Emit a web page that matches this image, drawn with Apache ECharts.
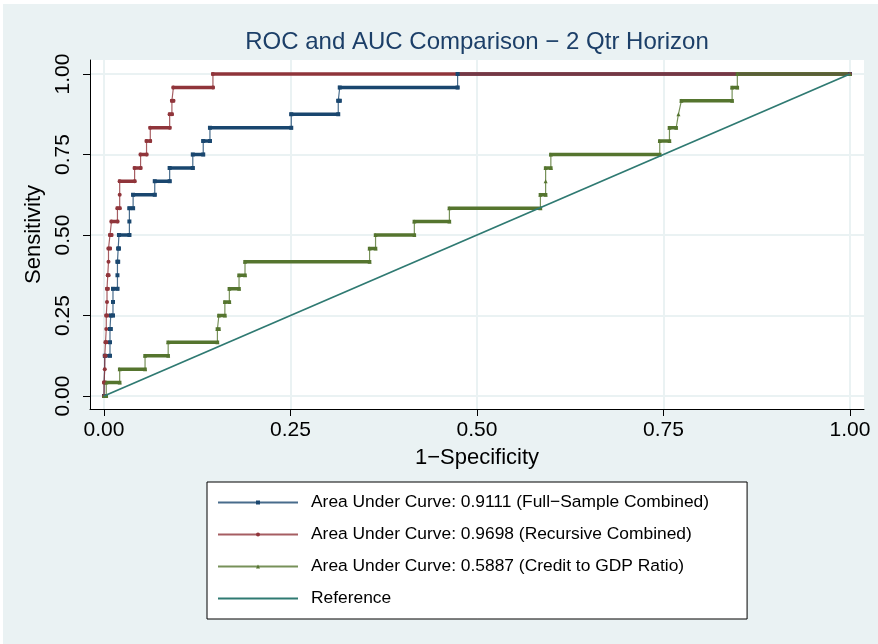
<!DOCTYPE html>
<html>
<head>
<meta charset="utf-8">
<title>ROC and AUC Comparison</title>
<script src="https://cdn.jsdelivr.net/npm/echarts@6/dist/echarts.min.js"></script>
<style>
  html, body { margin: 0; padding: 0; background: #fff; }
  #chart { position: absolute; left: 3px; top: 4px; width: 875px; height: 640px; }
</style>
</head>
<body>
<div id="chart"></div>
<script>
// tick positions, same on both axes
const axisTicks = [0, 0.25, 0.5, 0.75, 1];

// Full-sample combined: each sensitivity level and the 1-specificity span it holds
const fullTpr  = [0, 0.125, 0.167, 0.208, 0.25, 0.292, 0.333, 0.375, 0.417, 0.458, 0.5, 0.542, 0.583, 0.625, 0.667, 0.708, 0.75, 0.792, 0.833, 0.875, 0.917, 0.958, 1];
const fullFrom = [0, 0.001, 0.008, 0.008, 0.009, 0.012, 0.012, 0.018, 0.018, 0.019, 0.020, 0.034, 0.034, 0.039, 0.068, 0.088, 0.119, 0.133, 0.142, 0.251, 0.314, 0.316, 0.474];
const fullTo   = [0.001, 0.008, 0.008, 0.009, 0.012, 0.012, 0.018, 0.018, 0.019, 0.020, 0.034, 0.034, 0.039, 0.068, 0.088, 0.119, 0.133, 0.142, 0.251, 0.314, 0.316, 0.474, 1];

// Recursive combined
const recTpr  = [0, 0.042, 0.083, 0.125, 0.167, 0.208, 0.25, 0.292, 0.333, 0.375, 0.417, 0.458, 0.5, 0.542, 0.583, 0.625, 0.667, 0.708, 0.75, 0.792, 0.833, 0.875, 0.917, 0.958, 1];
const recFrom = [0, 0, 0.001, 0.001, 0.002, 0.003, 0.003, 0.004, 0.004, 0.005, 0.006, 0.006, 0.008, 0.010, 0.018, 0.021, 0.021, 0.041, 0.049, 0.057, 0.062, 0.088, 0.091, 0.093, 0.146];
const recTo   = [0, 0.001, 0.001, 0.002, 0.003, 0.003, 0.004, 0.004, 0.005, 0.006, 0.006, 0.008, 0.010, 0.018, 0.021, 0.021, 0.041, 0.049, 0.057, 0.062, 0.088, 0.091, 0.093, 0.146, 1];

// Credit to GDP ratio
const gdpTpr  = [0, 0.042, 0.083, 0.125, 0.167, 0.208, 0.25, 0.292, 0.333, 0.375, 0.417, 0.458, 0.5, 0.542, 0.583, 0.625, 0.667, 0.708, 0.75, 0.792, 0.833, 0.875, 0.917, 0.958, 1];
const gdpFrom = [0, 0.003, 0.021, 0.055, 0.086, 0.152, 0.154, 0.162, 0.168, 0.181, 0.189, 0.356, 0.364, 0.416, 0.463, 0.585, 0.592, 0.592, 0.599, 0.745, 0.758, 0.770, 0.774, 0.842, 0.849];
const gdpTo   = [0.003, 0.021, 0.055, 0.086, 0.152, 0.154, 0.162, 0.168, 0.181, 0.189, 0.356, 0.364, 0.416, 0.463, 0.585, 0.592, 0.592, 0.599, 0.745, 0.758, 0.767, 0.770, 0.842, 0.849, 1];

// reference diagonal
const refX = [0, 1];
const refY = [0, 1];

const fullName = 'Area Under Curve: 0.9111 (Full\u2212Sample Combined)';
const recName  = 'Area Under Curve: 0.9698 (Recursive Combined)';
const gdpName  = 'Area Under Curve: 0.5887 (Credit to GDP Ratio)';
const refName  = 'Reference';

const BLUE = '#1a476f', RED = '#90353b', GREEN = '#55752f', TEAL = '#2f7a72';

// the stepped outline: across each level, then up to the next one
function stepPoints(tpr, from, to) {
  const pts = [];
  tpr.forEach((t, i) => {
    pts.push([from[i], t]);
    if (to[i] !== from[i]) pts.push([to[i], t]);
  });
  return pts;
}
// flat stretches only, drawn heavy (stata's dense markers make them look thick)
function flatParts(tpr, from, to) {
  const pts = [];
  tpr.forEach((t, i) => {
    if (to[i] > from[i]) pts.push([from[i], t], [to[i], t], ['-', '-']);
  });
  return pts;
}

function thick(name, color, tpr, from, to) {
  return {
    name: name, type: 'line', data: flatParts(tpr, from, to),
    showSymbol: false, connectNulls: false, z: 2, silent: true,
    lineStyle: { color: color, width: 3.5, cap: 'square' }
  };
}
function thin(name, color, symbol, tpr, from, to) {
  return {
    name: name, type: 'line', data: stepPoints(tpr, from, to),
    symbol: symbol, symbolSize: 4, showSymbol: true, z: 3,
    itemStyle: { color: color },
    lineStyle: { color: color, width: 1.2, opacity: 0.8 }
  };
}

const chart = echarts.init(document.getElementById('chart'));

const labelFmt = v => v.toFixed(2);

chart.setOption({
  backgroundColor: '#eaf2f3',
  animation: false,
  textStyle: { fontFamily: 'Liberation Sans, Arial, sans-serif' },
  title: {
    text: 'ROC and AUC Comparison \u2212 2 Qtr Horizon',
    left: 469, top: 21, textAlign: 'center',
    textStyle: { fontSize: 24, fontWeight: 'normal', color: '#1c3f68' }
  },
  grid: {
    left: 87, right: 14, top: 56, bottom: 235,
    show: true, backgroundColor: '#ffffff', borderWidth: 0
  },
  xAxis: {
    type: 'value', min: -0.0188, max: 1.0188,
    name: '1\u2212Specificity', nameLocation: 'middle', nameGap: 38,
    nameTextStyle: { fontSize: 22, color: '#000' },
    axisLine: { show: true, onZero: false, lineStyle: { color: '#000', width: 1 } },
    axisTick: { show: true, customValues: axisTicks, length: 7, lineStyle: { color: '#000' } },
    axisLabel: { customValues: axisTicks, formatter: labelFmt, fontSize: 21, color: '#000', margin: 11 },
    splitLine: { show: true, lineStyle: { color: '#eaf2f3', width: 2 } }
  },
  yAxis: {
    type: 'value', min: -0.0404, max: 1.0435,
    name: 'Sensitivity', nameLocation: 'middle', nameGap: 37, nameRotate: 90,
    nameTextStyle: { fontSize: 22, color: '#000' },
    axisLine: { show: true, onZero: false, lineStyle: { color: '#000', width: 1 } },
    axisTick: { show: true, customValues: axisTicks, length: 7, lineStyle: { color: '#000' } },
    axisLabel: { customValues: axisTicks, formatter: labelFmt, fontSize: 21, color: '#000', margin: 16, rotate: 90 },
    splitLine: { show: true, lineStyle: { color: '#eaf2f3', width: 2 } }
  },
  legend: {
    orient: 'vertical', left: 204, top: 478,
    backgroundColor: '#ffffff', borderColor: '#000', borderWidth: 1, borderRadius: 0,
    padding: [12, 38, 12, 10],
    itemWidth: 80, itemHeight: 5, itemGap: 15,
    textStyle: { fontSize: 17.4, color: '#000', lineHeight: 17, padding: [0, 0, 0, 8] },
    data: [
      { name: fullName }, { name: recName }, { name: gdpName },
      { name: refName, icon: 'path://M0,0H80V2H0Z' }
    ]
  },
  series: [
    thick('full-flat', BLUE, fullTpr, fullFrom, fullTo),
    thick('rec-flat', RED, recTpr, recFrom, recTo),
    thick('gdp-flat', GREEN, gdpTpr, gdpFrom, gdpTo),
    thin(fullName, BLUE, 'rect', fullTpr, fullFrom, fullTo),
    thin(recName, RED, 'circle', recTpr, recFrom, recTo),
    thin(gdpName, GREEN, 'triangle', gdpTpr, gdpFrom, gdpTo),
    {
      name: refName, type: 'line', data: refX.map((x, i) => [x, refY[i]]),
      showSymbol: false, z: 4, itemStyle: { color: TEAL },
      lineStyle: { color: TEAL, width: 1.8 }
    }
  ]
});
</script>
</body>
</html>
